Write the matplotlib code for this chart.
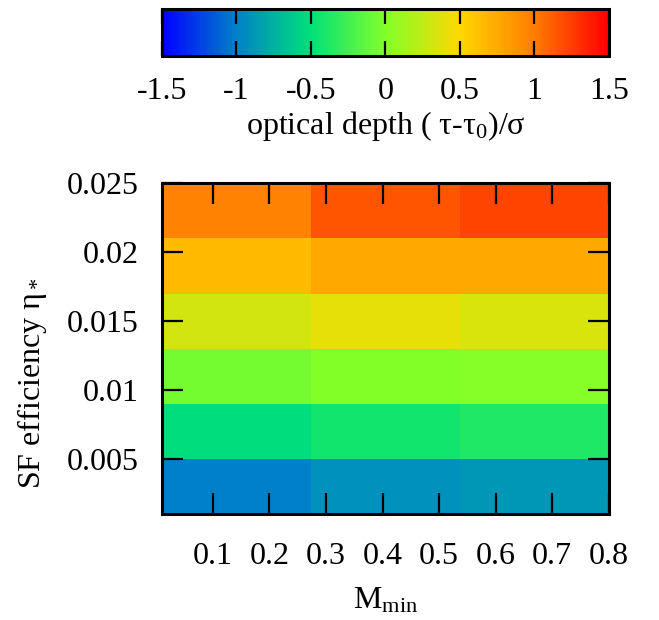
""" Optical depth offset over the (M_min, eta_*) grid """

import matplotlib
matplotlib.use("Agg")
import matplotlib.pyplot as plt
from matplotlib.colors import LinearSegmentedColormap
import numpy as np

plt.rcParams['font.family'] = ['Liberation Serif', 'DejaVu Serif']
plt.rcParams['mathtext.fontset'] = 'custom'
plt.rcParams['mathtext.rm'] = 'Liberation Serif'
plt.rcParams['mathtext.it'] = 'Liberation Serif:italic'

# grid centres
m_min = [0.1417, 0.405, 0.6683]
eta = [0.003, 0.007, 0.011, 0.015, 0.019, 0.023]

# (tau - tau0)/sigma, one row per eta, one column per M_min
tau_dev = np.array([
	[-1.00, -0.92, -0.88],
	[-0.52, -0.43, -0.38],
	[-0.05,  0.00,  0.02],
	[ 0.32,  0.40,  0.35],
	[ 0.65,  0.76,  0.75],
	[ 0.97,  1.15,  1.22],
])

cb_ticks = [-1.5, -1, -0.5, 0, 0.5, 1, 1.5]
cb_labels = ['-1.5', '-1', '-0.5', '0', '0.5', '1', '1.5']
x_ticks = [0.1, 0.2, 0.3, 0.4, 0.5, 0.6, 0.7, 0.8]
y_ticks = [0.005, 0.01, 0.015, 0.02, 0.025]

# palette
palette = LinearSegmentedColormap.from_list("pal", [
	(0.0, (0/255, 0/255, 255/255)),
	(1/6, (0/255, 130/255, 200/255)),
	(2/6, (0/255, 225/255, 120/255)),
	(3/6, (130/255, 255/255, 40/255)),
	(4/6, (255/255, 215/255, 0/255)),
	(5/6, (255/255, 125/255, 0/255)),
	(1.0, (255/255, 0/255, 0/255)),
])

FS = 23

fig = plt.figure(figsize=(6.59, 6.2), dpi=100)
ax = fig.add_axes([0.2458, 0.171, 0.678, 0.5334])
cax = fig.add_axes([0.2458, 0.9097, 0.678, 0.0753])

mesh = ax.pcolormesh(m_min, eta, tau_dev, cmap=palette, vmin=-1.5, vmax=1.5,
	shading='nearest')
ax.set_xlim(0.01, 0.8)
ax.set_ylim(0.001, 0.025)
ax.set_xticks(x_ticks)
ax.set_xticklabels([str(v) for v in x_ticks])
ax.set_yticks(y_ticks)
ax.set_yticklabels([str(v) for v in y_ticks])
ax.tick_params(direction='in', top=True, right=True, length=15, width=1.6,
	labelsize=FS)
ax.tick_params(axis='x', pad=20)
ax.tick_params(axis='y', pad=17)
for s in ax.spines.values():
	s.set_linewidth(2.2)

ax.set_xlabel(r'$\mathregular{M_{min}}$', fontsize=FS, labelpad=11)
ax.set_ylabel(r'SF efficiency $\mathregular{η_*}$', fontsize=FS)
ax.yaxis.set_label_coords(-0.253, 0.396)

cb = fig.colorbar(mesh, cax=cax, orientation='horizontal')
cb.set_ticks(cb_ticks)
cb.set_ticklabels(cb_labels)
cax.tick_params(direction='in', top=True, bottom=True, length=11, width=1.6,
	labelsize=FS, pad=15)
cb.outline.set_linewidth(2.2)
cb.set_label(r'optical depth ( τ-$\mathregular{τ_0}$)/σ', fontsize=FS, labelpad=2)

fig.savefig("out.png", dpi=100)
